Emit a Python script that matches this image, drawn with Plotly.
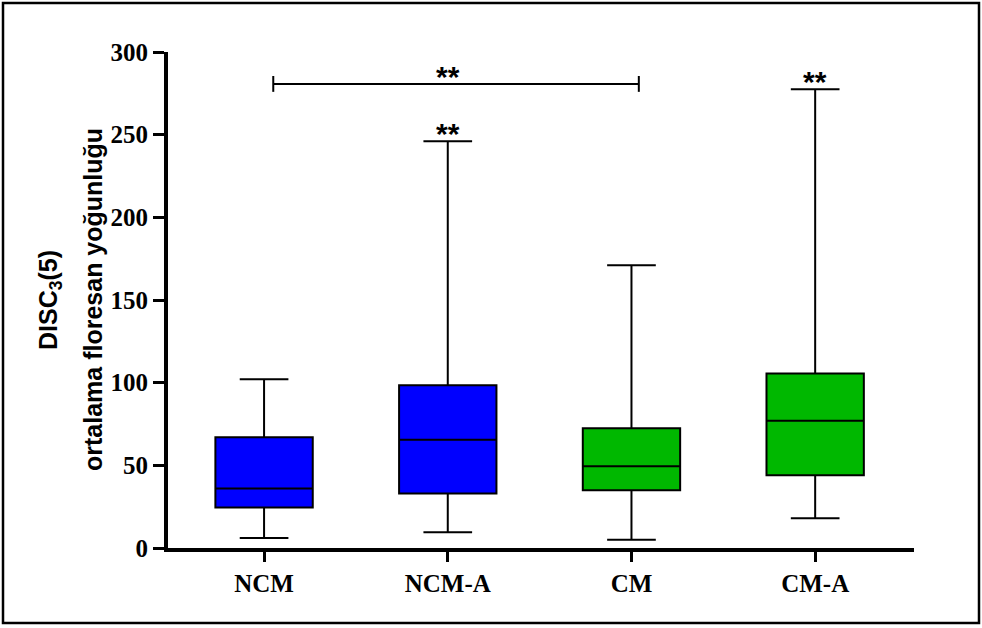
import plotly.graph_objects as go

categories = ["NCM", "NCM-A", "CM", "CM-A"]
q1 = [24.5, 33, 35, 44]
median = [36, 65.5, 49.5, 77]
q3 = [67, 98.5, 72.5, 105.5]
lower = [6, 9.5, 5, 18]
upper = [102, 246, 171, 277.5]
colors = ["#0000FF", "#0000FF", "#00B800", "#00B800"]
y_ticks = [0, 50, 100, 150, 200, 250, 300]

# significance marks
bracket_from, bracket_to, bracket_y = 0, 2, 280.7
star_marks = [(1, 246), (3, 277.5)]

W, H = 982, 628
ML, MR, MT, MB = 168, 68, 52, 80
PW, PH = W - ML - MR, H - MT - MB

fig = go.Figure()
for i, c in enumerate(categories):
    fig.add_trace(go.Box(
        x=[i], q1=[q1[i]], median=[median[i]], q3=[q3[i]],
        lowerfence=[lower[i]], upperfence=[upper[i]],
        fillcolor=colors[i], line=dict(color="black", width=2),
        whiskerwidth=0.5, width=0.53, boxpoints=False,
        showlegend=False, hoverinfo="skip", name=c,
    ))

shapes = []
bx0, bx1 = bracket_from + 0.05, bracket_to + 0.04
shapes.append(dict(type="line", xref="x", yref="y", x0=bx0, x1=bx1,
                   y0=bracket_y, y1=bracket_y, line=dict(color="black", width=2)))
for bx in (bx0, bx1):
    shapes.append(dict(type="line", xref="x", yref="y", x0=bx, x1=bx,
                       y0=bracket_y - 4.8, y1=bracket_y + 4.8,
                       line=dict(color="black", width=2)))
# outer frame
shapes.append(dict(type="rect", xref="paper", yref="paper",
                   x0=(3 - ML) / PW, x1=(979 - ML) / PW,
                   y0=(MT + PH - 623) / PH, y1=(MT + PH - 3) / PH,
                   line=dict(color="black", width=2.5), fillcolor="rgba(0,0,0,0)"))

star_font = dict(family="Liberation Sans", size=30, color="black", weight="bold")
annotations = [dict(x=(bracket_from + bracket_to) / 2, y=bracket_y, xref="x", yref="y",
                    text="**", showarrow=False, font=star_font,
                    xanchor="center", yanchor="middle", yshift=7)]
for xi, yv in star_marks:
    annotations.append(dict(x=xi, y=yv, xref="x", yref="y", text="**",
                            showarrow=False, font=star_font,
                            xanchor="center", yanchor="middle", yshift=8))

title_font = dict(family="Liberation Sans", size=25, color="black", weight="bold")
annotations.append(dict(x=0, y=0.5, xref="paper", yref="paper",
                        text="DISC<sub>3</sub>(5)", textangle=-90, showarrow=False,
                        font=title_font, xanchor="center", yanchor="middle", xshift=50 - ML))
annotations.append(dict(x=0, y=0.5, xref="paper", yref="paper",
                        text="ortalama floresan yoğunluğu", textangle=-90, showarrow=False,
                        font=title_font, xanchor="center", yanchor="middle", xshift=93 - ML))

tick_font = dict(family="Liberation Serif", size=25, color="black", weight="bold")
fig.update_layout(
    width=W, height=H,
    margin=dict(l=ML, r=MR, t=MT, b=MB),
    plot_bgcolor="white", paper_bgcolor="white",
    shapes=shapes, annotations=annotations,
    xaxis=dict(range=[-0.523, 3.538], tickmode="array", tickvals=list(range(len(categories))),
               ticktext=categories, showline=True, linecolor="black", linewidth=4,
               ticks="outside", ticklen=10, tickwidth=3, tickcolor="black",
               tickfont=tick_font, showgrid=False, zeroline=False),
    yaxis=dict(range=[0, 300], tickmode="array", tickvals=y_ticks,
               showline=True, linecolor="black", linewidth=4,
               ticks="outside", ticklen=11, tickwidth=3, tickcolor="black",
               tickfont=tick_font, showgrid=False, zeroline=False),
)

fig.write_html("out.html")
